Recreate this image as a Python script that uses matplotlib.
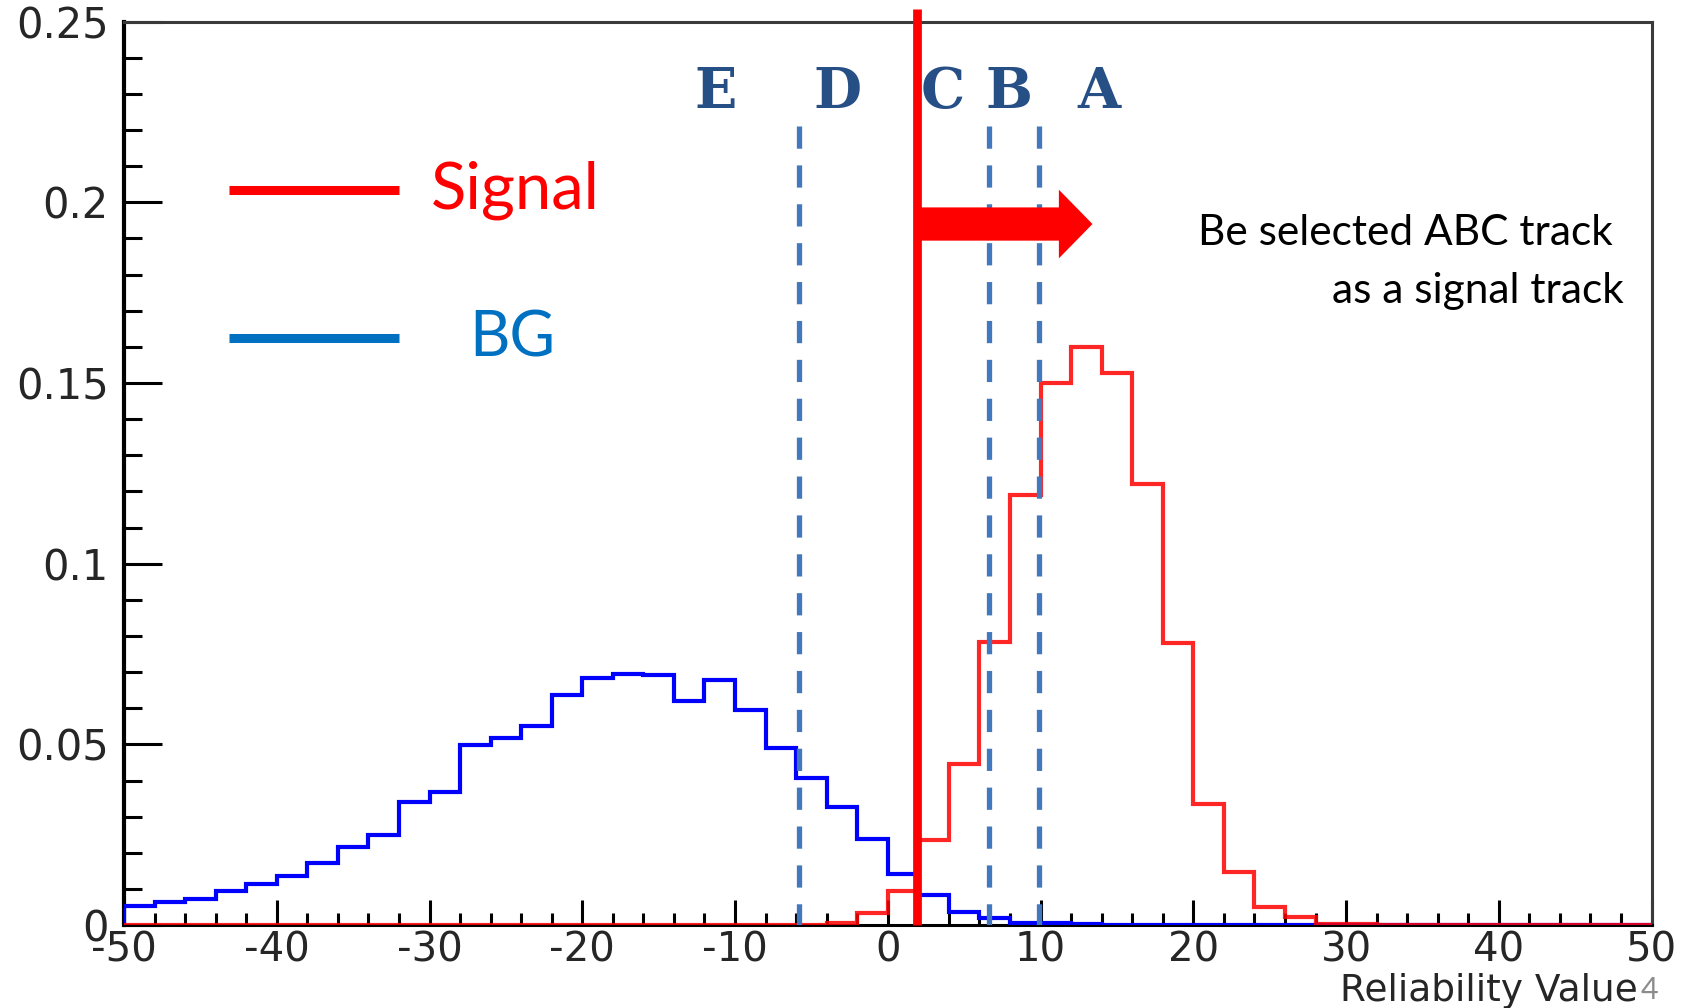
import numpy as np
import matplotlib.pyplot as plt
from matplotlib.patches import FancyArrow
from matplotlib.ticker import MultipleLocator, FixedLocator, FixedFormatter

plt.rcParams["axes.unicode_minus"] = False
plt.rcParams["lines.scale_dashes"] = False

# Histogram binning (2-unit bins over the reliability range)
bin_edges = np.arange(-50, 51, 2)

# Background track distribution, one value per bin from -50 to 50
bg_values = [
    0.0053, 0.0065, 0.0072, 0.0094, 0.0114, 0.0136, 0.0171, 0.0216, 0.0249, 0.0340,
    0.0369, 0.0497, 0.0518, 0.0551, 0.0636, 0.0684, 0.0694, 0.0691, 0.0621, 0.0679,
    0.0596, 0.0491, 0.0407, 0.0326, 0.0239, 0.0142, 0.0083, 0.0035, 0.0019, 0.0007,
    0.0005, 0.0003, 0.0001, 0.0001, 0.0001, 0.0001, 0.0001, 0.0001, 0.0001, 0.0001,
    0.0001, 0.0, 0.0, 0.0, 0.0, 0.0, 0.0, 0.0, 0.0, 0.0,
]

# Signal track distribution
signal_values = [
    0.0, 0.0, 0.0, 0.0, 0.0, 0.0, 0.0, 0.0, 0.0, 0.0,
    0.0, 0.0, 0.0, 0.0, 0.0, 0.0, 0.0, 0.0, 0.0, 0.0,
    0.0, 0.0, 0.0, 0.0007, 0.0032, 0.0093, 0.0234, 0.0447, 0.0782, 0.1190,
    0.1501, 0.1601, 0.1529, 0.1221, 0.0780, 0.0335, 0.0148, 0.0051, 0.0023, 0.0004,
    0.0002, 0.0, 0.0, 0.0, 0.0, 0.0, 0.0, 0.0, 0.0, 0.0,
]

x_ticks = [-50, -40, -30, -20, -10, 0, 10, 20, 30, 40, 50]
x_tick_labels = ["-50", "-40", "-30", "-20", "-10", "0", "10", "20", "30", "40", "50"]
y_ticks = [0, 0.05, 0.1, 0.15, 0.2, 0.25]
y_tick_labels = ["0", "0.05", "0.1", "0.15", "0.2", "0.25"]

# Selection cut and region boundaries
cut_value = 1.9
boundary_x = [-5.8, 6.6, 9.9]
boundary_top = 0.2212
region_letters = ["E", "D", "C", "B", "A"]
region_letter_x = [-11.3, -3.3, 3.6, 7.9, 13.8]
region_letter_y = 0.2262

# Arrow for the selected side
arrow_y = 0.1940
arrow_tip = 13.4
arrow_shaft = 0.0092
arrow_head_w = 0.0190
arrow_head_len = 2.2

RED = "#ff0000"
HIST_BLUE = "#0000ff"
LEGEND_BLUE = "#0070c0"
DASH_BLUE = "#4178be"
LETTER_BLUE = "#264f85"
TICK_GRAY = "#262626"

fig = plt.figure(figsize=(16.87, 10.08), dpi=100)
ax = fig.add_axes([0.0735, 0.0823, 0.979 - 0.0735, 0.9785 - 0.0823])
ax.set_xlim(-50, 50)
ax.set_ylim(0, 0.25)

# Histograms
ax.stairs(bg_values, bin_edges, color=HIST_BLUE, lw=3.0, baseline=0, zorder=3)
ax.stairs(signal_values, bin_edges, color=RED, lw=3.0, baseline=0, zorder=4, alpha=0.85)

# Region boundaries
for bx in boundary_x:
    ax.plot([bx, bx], [boundary_top, 0], color=DASH_BLUE, lw=3.8,
            dashes=(16, 12), zorder=5, solid_capstyle="butt")

# Selection cut line
ax.plot([cut_value, cut_value], [0, 0.2535], color=RED, lw=6.3,
        zorder=6, clip_on=False, solid_capstyle="butt")

# Arrow to the selected side
arrow = FancyArrow(cut_value, arrow_y, arrow_tip - cut_value, 0,
                   width=arrow_shaft, head_width=arrow_head_w,
                   head_length=arrow_head_len, length_includes_head=True,
                   color=RED, lw=0, zorder=6)
ax.add_patch(arrow)

# Region letters
for letter, lx in zip(region_letters, region_letter_x):
    ax.text(lx, region_letter_y, letter, ha="center", va="baseline",
            fontsize=40, fontfamily="DejaVu Serif", fontweight="bold",
            color=LETTER_BLUE, zorder=7)

# Hand-drawn legend
ax.plot([-43.1, -32.0], [0.2034, 0.2034], color=RED, lw=6.5, solid_capstyle="butt")
ax.text(-29.9, 0.2034, "Signal", color=RED, fontsize=47, fontfamily="Lato",
        ha="left", va="center")
ax.plot([-43.1, -32.0], [0.1624, 0.1624], color=LEGEND_BLUE, lw=6.5, solid_capstyle="butt")
ax.text(-27.4, 0.1624, "BG", color=LEGEND_BLUE, fontsize=45, fontfamily="Lato",
        ha="left", va="center")

# Annotation text
ax.text(48.2, 0.1915, "Be selected ABC track ", color="black", fontsize=30.5,
        fontfamily="Lato", ha="right", va="center")
ax.text(48.2, 0.1755, "as a signal track", color="black", fontsize=30.5,
        fontfamily="Lato", ha="right", va="center")

# Axes styling
ax.xaxis.set_major_locator(FixedLocator(x_ticks))
ax.xaxis.set_major_formatter(FixedFormatter(x_tick_labels))
ax.xaxis.set_minor_locator(MultipleLocator(2))
ax.yaxis.set_major_locator(FixedLocator(y_ticks))
ax.yaxis.set_major_formatter(FixedFormatter(y_tick_labels))
ax.yaxis.set_minor_locator(MultipleLocator(0.01))

ax.tick_params(axis="x", which="major", direction="in", length=18, width=2.2,
               pad=4, labelsize=29, labelcolor=TICK_GRAY, top=False)
ax.tick_params(axis="x", which="minor", direction="in", length=9, width=2.2, top=False)
ax.tick_params(axis="y", which="major", direction="in", length=27, width=2.2,
               pad=11, labelsize=30, labelcolor=TICK_GRAY, right=False)
ax.tick_params(axis="y", which="minor", direction="in", length=13, width=2.2, right=False)
for lbl in ax.get_xticklabels() + ax.get_yticklabels():
    lbl.set_fontfamily("DejaVu Sans")

ax.spines["left"].set_linewidth(3.0)
ax.spines["left"].set_color("black")
ax.spines["bottom"].set_linewidth(2.2)
ax.spines["bottom"].set_color("black")
for side in ("top", "right"):
    ax.spines[side].set_linewidth(2.2)
    ax.spines[side].set_color("#3a3a3a")

ax.text(0.991, -0.0735, "Reliability Value", transform=ax.transAxes, ha="right",
        va="center", fontsize=27, fontfamily="DejaVu Sans", color=TICK_GRAY)

# Page number
fig.text(0.9725, 0.004, "4", color="#8c8c8c", fontsize=22, fontfamily="Lato",
         ha="left", va="bottom")

fig.savefig("out.png", dpi=100)
